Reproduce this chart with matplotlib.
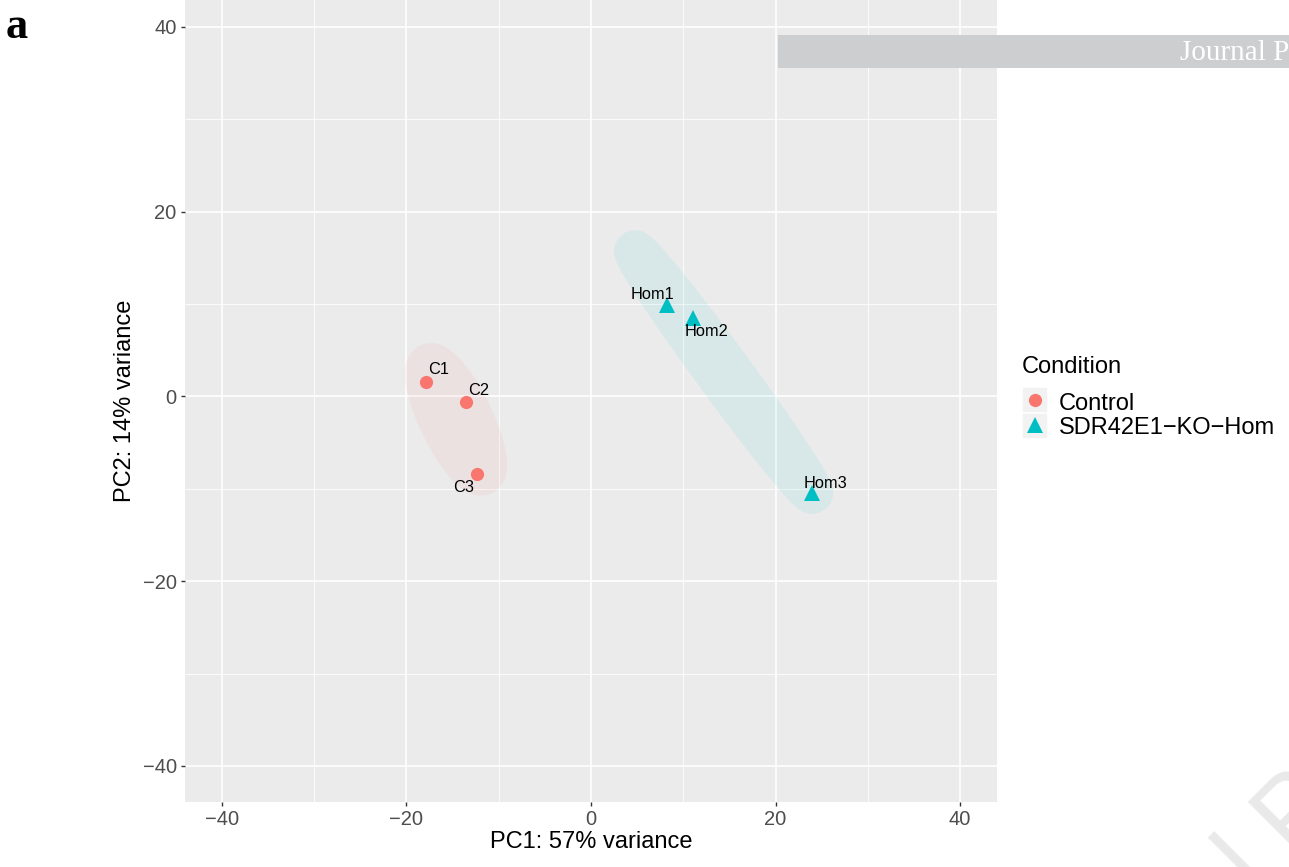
import numpy as np
import matplotlib.pyplot as plt
from matplotlib.lines import Line2D
from matplotlib.patches import Rectangle, Polygon

plt.rcParams['font.family'] = ['Liberation Sans', 'DejaVu Sans']

# PCA scores per sample
samples = ['C1', 'C2', 'C3', 'Hom1', 'Hom2', 'Hom3']
pc1 = [-17.9, -13.6, -12.4, 8.2, 11.0, 23.9]
pc2 = [1.6, -0.65, -8.4, 9.9, 8.5, -10.5]
condition = ['Control', 'Control', 'Control',
             'SDR42E1-KO-Hom', 'SDR42E1-KO-Hom', 'SDR42E1-KO-Hom']
groups = ['Control', 'SDR42E1-KO-Hom']
group_labels = ['Control', 'SDR42E1\u2212KO\u2212Hom']
colors = {'Control': '#F8766D', 'SDR42E1-KO-Hom': '#00BFC4'}
markers = {'Control': 'o', 'SDR42E1-KO-Hom': '^'}
msizes = {'Control': 9.5, 'SDR42E1-KO-Hom': 11.5}

# label offsets in pixels (repel-style placement)
label_offsets = {'C1': (13, 12), 'C2': (13, 12), 'C3': (-13, -14),
                 'Hom1': (-14, 10), 'Hom2': (14, -14), 'Hom3': (14, 10)}

W, H = 1289, 867


def mark_ellipse(x, y, expand, n=300):
    # Steiner circumellipse of the points, pushed outwards by `expand`
    pts = np.column_stack([x, y])
    c = pts.mean(axis=0)
    d = pts - c
    S = d.T @ d / len(pts)
    vals, vecs = np.linalg.eigh(S)
    a, b = np.sqrt(2 * np.maximum(vals, 1e-9))
    t = np.linspace(0, 2 * np.pi, n)
    ex, ey = a * np.cos(t), b * np.sin(t)
    nx, ny = b * np.cos(t), a * np.sin(t)
    nn = np.hypot(nx, ny)
    ox = ex + expand * nx / nn
    oy = ey + expand * ny / nn
    return np.column_stack([ox, oy]) @ vecs.T + c


def fx(px):
    return px / W


def fy(py):
    return (H - py) / H


def main():
    fig = plt.figure(figsize=(W / 100, H / 100), dpi=100)
    ax = fig.add_axes([fx(185), fy(802), 812 / W, 802 / H])
    ax.set_facecolor('#EBEBEB')
    ax.set_xlim(-44, 44)
    ax.set_ylim(-43.9, 42.9)

    ax.set_xticks([-40, -20, 0, 20, 40])
    ax.set_yticks([-40, -20, 0, 20, 40])
    ax.set_xticks([-30, -10, 10, 30], minor=True)
    ax.set_yticks([-30, -10, 10, 30], minor=True)
    ax.set_xticklabels(['\u221240', '\u221220', '0', '20', '40'])
    ax.set_yticklabels(['\u221240', '\u221220', '0', '20', '40'])
    ax.grid(which='major', color='white', lw=1.2)
    ax.grid(which='minor', color='white', lw=0.6)
    ax.set_axisbelow(True)
    for s in ax.spines.values():
        s.set_visible(False)
    ax.tick_params(which='major', length=3, width=1, color='#333333',
                   labelcolor='#4D4D4D', labelsize=14.5, pad=3)
    ax.tick_params(which='minor', length=0)

    x = np.array(pc1)
    y = np.array(pc2)
    cond = np.array(condition)
    for g in groups:
        m = cond == g
        poly = mark_ellipse(x[m], y[m], 2.2)
        ax.add_patch(Polygon(poly, closed=True, facecolor=colors[g],
                             alpha=0.08, edgecolor='none', zorder=1))
    for g in groups:
        m = cond == g
        ax.plot(x[m], y[m], ls='', marker=markers[g], color=colors[g],
                ms=msizes[g], mew=0, zorder=3)

    for s, xi, yi in zip(samples, pc1, pc2):
        ax.annotate(s, (xi, yi), xytext=label_offsets[s],
                    textcoords='offset pixels', ha='center', va='center',
                    fontsize=11.8, color='black', zorder=4)

    ax.set_xlabel('PC1: 57% variance', fontsize=17, labelpad=1)
    ax.set_ylabel('PC2: 14% variance', fontsize=17, labelpad=5)

    # legend, laid out by hand
    fig.text(fx(1022), fy(373), 'Condition', fontsize=17, va='baseline')
    rows = [400, 425]
    for g, lab, ry in zip(groups, group_labels, rows):
        fig.add_artist(Rectangle((fx(1022), fy(ry + 12.5)), 25 / W, 25 / H,
                                 transform=fig.transFigure, facecolor='#F2F2F2',
                                 edgecolor='white', lw=0.5, zorder=0))
        fig.add_artist(Line2D([fx(1035)], [fy(ry)], transform=fig.transFigure,
                              ls='', marker=markers[g], color=colors[g],
                              ms=msizes[g], mew=0))
        fig.text(fx(1059), fy(ry + 9.5), lab, fontsize=17, va='baseline')

    fig.text(fx(6), fy(38), 'a', fontfamily='Liberation Serif',
             fontweight='bold', fontsize=32, va='baseline')

    # journal banner
    fig.add_artist(Rectangle((fx(778), fy(68)), (W - 778) / W, 33 / H,
                             transform=fig.transFigure, facecolor='#CDCED0',
                             edgecolor='none', zorder=5))
    fig.text(fx(1180), fy(60), 'Journal Pre-proof',
             fontfamily='Liberation Serif', fontsize=21, color='white',
             va='baseline', zorder=6)
    fig.text(fx(1031), fy(1120), 'Journal Pre-proof', fontsize=75,
             color='#E9E9E9', rotation=45, rotation_mode='anchor',
             ha='left', va='baseline', zorder=0)

    fig.savefig('out.png', dpi=100)


if __name__ == "__main__":
    main()
